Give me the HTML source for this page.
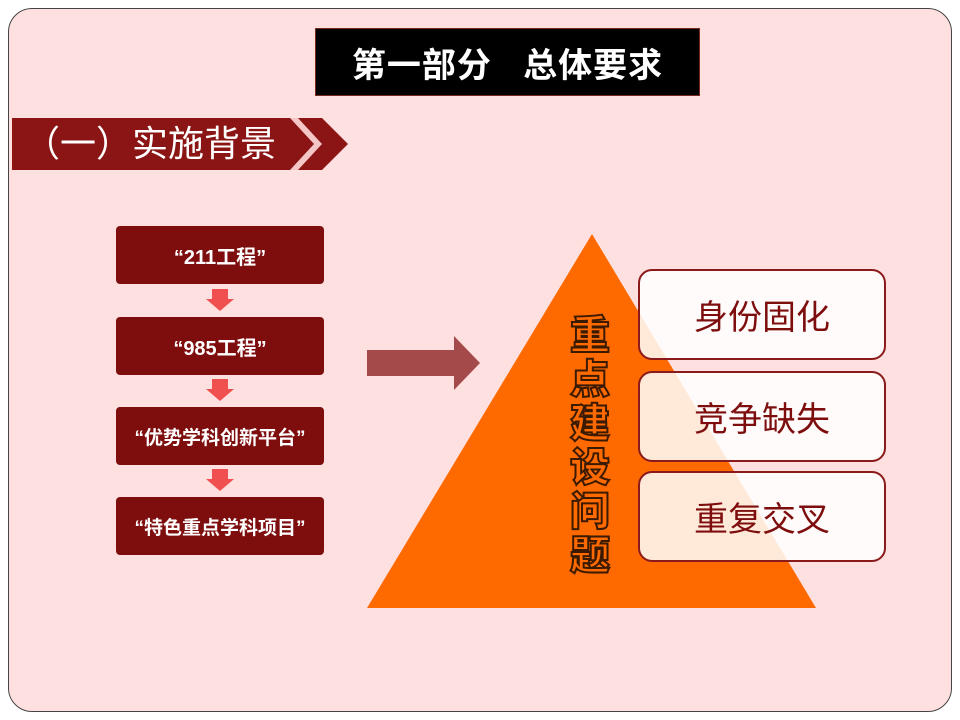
<!DOCTYPE html>
<html><head><meta charset="utf-8"><style>
body{margin:0;width:960px;height:720px;background:#fff;position:relative;overflow:hidden;font-family:"Liberation Sans","Noto Sans CJK SC",sans-serif}
.card{position:absolute;left:8px;top:8px;width:942px;height:702px;border:1px solid #444;border-radius:24px;background:#fde0df}
.abs{position:absolute}
.lb{position:absolute;left:116px;width:208px;height:58px;background:#7e0e0e;border-radius:4px;color:#fff;font-weight:bold;font-size:20px;display:flex;align-items:center;justify-content:center}
.da{position:absolute;left:206px;width:28px;height:22px}
.rb{position:absolute;left:638px;width:244px;height:87px;border:2px solid #8b1a1a;border-radius:14px;background:rgba(255,255,255,0.85);color:#7e0e0e;font-size:34px;display:flex;align-items:center;justify-content:center}
</style></head><body>
<div class="card"></div>
<div class="abs" style="left:315px;top:28px;width:383px;height:66px;background:#000;border:1px solid #7a2a1a;color:#fff;font-size:34px;font-weight:bold;display:flex;align-items:center;justify-content:center;letter-spacing:1px">第一部分&nbsp;&nbsp;&nbsp;总体要求</div>
<svg class="abs" style="left:0;top:0" width="960" height="720">
<polygon points="12,118 300,118 324,144 300,170 12,170" fill="#8b1414"/>
<polygon points="298,118 322,118 348,144 322,170 298,170 322,144" fill="#8b1414"/>
<polygon points="290,118 298,118 322,144 298,170 290,170 314,144" fill="#f4c6c6"/>
<polygon points="592,234 816,608 367,608" fill="#ff6a00"/>
<polygon points="367,350 454,350 454,336 480,363 454,390 454,376 367,376" fill="#a54a4a"/>
<g fill="#f05050">
<polygon points="212,289 228,289 228,299 234,299 220,311 206,299 212,299"/>
<polygon points="212,379 228,379 228,389 234,389 220,401 206,389 212,389"/>
<polygon points="212,469 228,469 228,479 234,479 220,491 206,479 212,479"/>
</g>
</svg>
<div class="abs" style="left:24px;top:118px;height:52px;line-height:52px;color:#fff;font-size:36px">（一）实施背景</div>
<div class="lb" style="top:226px">“211工程”</div>
<div class="lb" style="top:317px">“985工程”</div>
<div class="lb" style="top:407px;font-size:19px">“优势学科创新平台”</div>
<div class="lb" style="top:497px;font-size:19px">“特色重点学科项目”</div>
<div class="abs" style="left:566px;top:314px;width:48px;color:#ff6a00;font-size:40px;line-height:44px;font-weight:900;text-align:center;-webkit-text-stroke:2px #3a1a00">重点建设问题</div>
<div class="rb" style="top:269px">身份固化</div>
<div class="rb" style="top:371px">竞争缺失</div>
<div class="rb" style="top:471px">重复交叉</div>
</body></html>
